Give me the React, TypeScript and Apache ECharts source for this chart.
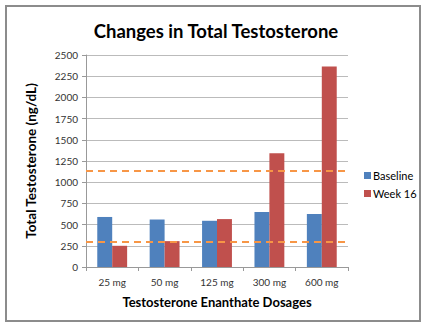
import React, { useEffect, useRef } from "react";
import * as echarts from "echarts";

const categories = ["25 mg", "50 mg", "125 mg", "300 mg", "600 mg"];
const baseline = [590, 560, 545, 650, 625];
const week16 = [250, 305, 565, 1340, 2365];
const referenceLines = [1140, 300];
const yTicks = { min: 0, max: 2500, interval: 250 };

const FONT = "Lato, 'Open Sans', sans-serif";

export default function App() {
  const ref = useRef<HTMLDivElement>(null);
  useEffect(() => {
    if (!ref.current) return;
    const chart = echarts.init(ref.current, undefined, { renderer: "svg" });
    chart.setOption({
      animation: false,
      backgroundColor: "#fff",
      textStyle: { fontFamily: FONT },
      title: {
        text: "Changes in Total Testosterone",
        left: 211,
        top: 16,
        textAlign: "center",
        textStyle: { fontSize: 18.5, fontWeight: "bold", color: "#000", fontFamily: FONT },
      },
      legend: {
        orient: "vertical",
        left: 359,
        top: 165,
        itemWidth: 7,
        itemHeight: 7,
        itemGap: 7,
        icon: "rect",
        textStyle: { fontSize: 11, color: "#000", padding: [0, 0, 0, -3] },
        data: ["Baseline", "Week 16"],
      },
      grid: { left: 86, right: 77, top: 55, bottom: 59 },
      xAxis: {
        type: "category",
        data: categories,
        name: "Testosterone Enanthate Dosages",
        nameLocation: "middle",
        nameGap: 28,
        nameTextStyle: { fontSize: 13, fontWeight: "bold", color: "#000" },
        axisLine: { lineStyle: { color: "#999" } },
        axisTick: { show: true, alignWithLabel: false, length: 4, lineStyle: { color: "#999" } },
        axisLabel: { fontSize: 10, color: "#333", margin: 10 },
      },
      yAxis: {
        type: "value",
        min: yTicks.min,
        max: yTicks.max,
        interval: yTicks.interval,
        name: "Total Testosterone (ng/dL)",
        nameLocation: "middle",
        nameGap: 48,
        nameTextStyle: { fontSize: 13.5, fontWeight: "bold", color: "#000" },
        axisLine: { show: true, lineStyle: { color: "#999" } },
        axisTick: { show: true, length: 4, lineStyle: { color: "#999" } },
        axisLabel: { fontSize: 10, color: "#333", margin: 8, formatter: (v: number) => String(v) },
        splitLine: { lineStyle: { color: "#bbb" } },
      },
      series: [
        {
          name: "Baseline",
          type: "bar",
          data: baseline,
          barGap: "0%",
          barCategoryGap: "43%",
          itemStyle: { color: "#4F81BD" },
        },
        {
          name: "Week 16",
          type: "bar",
          data: week16,
          itemStyle: { color: "#C0504D" },
          markLine: {
            silent: true,
            symbol: "none",
            label: { show: false },
            lineStyle: { color: "#F79646", type: [7, 5], width: 2 },
            data: referenceLines.map((v) => ({ yAxis: v })),
          },
        },
      ],
      graphic: [
        {
          type: "rect",
          shape: { x: 6, y: 6, width: 414, height: 315 },
          style: { fill: "none", stroke: "#8c8c8c", lineWidth: 2 },
          z: 100,
        },
      ],
    });
    return () => chart.dispose();
  }, []);
  return (
    <div
      ref={ref}
      style={{ width: 425, height: 326, position: "fixed", left: 0, top: 0 }}
    />
  );
}
